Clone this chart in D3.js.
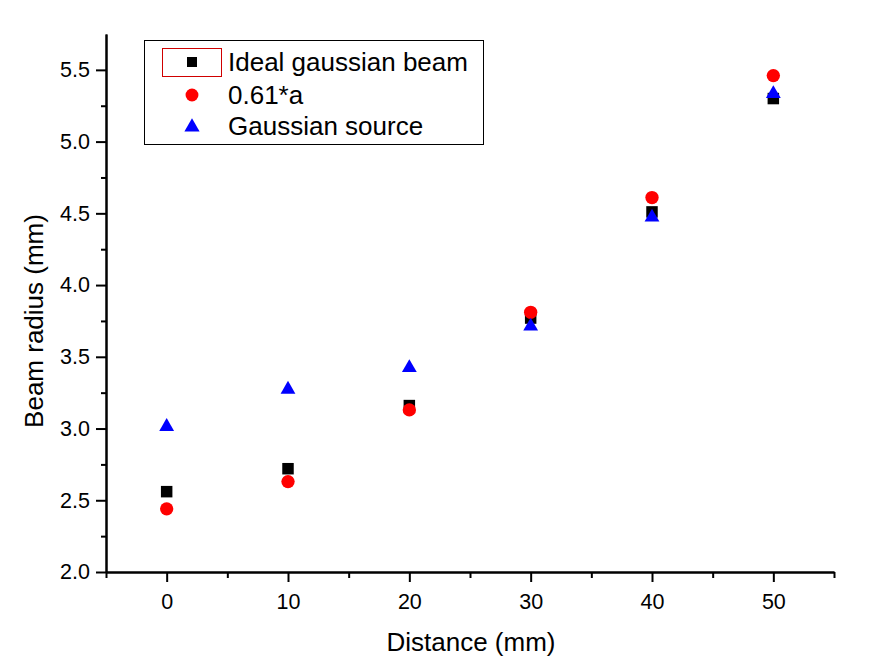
<!DOCTYPE html>
<html>
<head>
<meta charset="utf-8">
<script src="https://cdn.jsdelivr.net/npm/d3@7"></script>
<style>
  html, body { margin: 0; padding: 0; background: #fff; }
  svg { display: block; }
  text { font-family: "Liberation Sans", Arial, sans-serif; fill: #000; }
</style>
</head>
<body>
<svg id="chart" width="875" height="664"></svg>
<script>
// ---- data ----
const distances = [0, 10, 20, 30, 40, 50];
const idealGaussian = [2.56, 2.72, 3.16, 3.77, 4.51, 5.30];
const ratio061a = [2.44, 2.63, 3.13, 3.81, 4.61, 5.46];
const gaussianSource = [3.02, 3.28, 3.43, 3.72, 4.48, 5.34];
const seriesNames = ["Ideal gaussian beam", "0.61*a", "Gaussian source"];
const xTicks = [0, 10, 20, 30, 40, 50];
const xMinorTicks = [-5, 5, 15, 25, 35, 45, 55];
const yTicks = [2.0, 2.5, 3.0, 3.5, 4.0, 4.5, 5.0, 5.5];
const yMinorTicks = [2.25, 2.75, 3.25, 3.75, 4.25, 4.75, 5.25];

(function () {
const svg = d3.select("#chart");
const mLeft = 106, mRight = 834, mTop = 34, mBottom = 572;

const x = d3.scaleLinear().domain([-5, 55]).range([mLeft, mRight]);
const y = d3.scaleLinear().domain([2.0, 5.75]).range([mBottom, mTop]);

// axes
const xAxis = d3.axisBottom(x).tickValues(xTicks).tickSize(10).tickSizeOuter(0).tickPadding(12).tickFormat(d3.format("d"));
const xMinor = d3.axisBottom(x).tickValues(xMinorTicks).tickSize(6).tickSizeOuter(0).tickFormat("");
const yAxis = d3.axisLeft(y).tickValues(yTicks).tickSize(10).tickSizeOuter(0).tickPadding(6).tickFormat(d3.format(".1f"));
const yMinor = d3.axisLeft(y).tickValues(yMinorTicks).tickSize(5).tickSizeOuter(0).tickFormat("");

function styleAxis(g) {
  g.select(".domain").attr("stroke", "#000").attr("stroke-width", 2);
  g.selectAll(".tick line").attr("stroke", "#000").attr("stroke-width", 2);
  g.selectAll(".tick text").style("font-size", "21.5px").style("font-family", '"Liberation Sans", Arial, sans-serif').attr("fill", "#000");
}

svg.append("g").attr("transform", `translate(0,${mBottom})`).call(xMinor).call(styleAxis);
svg.append("g").attr("transform", `translate(0,${mBottom})`).call(xAxis).call(styleAxis);
svg.append("g").attr("transform", `translate(${mLeft},0)`).call(yMinor).call(styleAxis);
svg.append("g").attr("transform", `translate(${mLeft},0)`).call(yAxis).call(styleAxis);

// axis titles
svg.append("text")
  .attr("x", (mLeft + mRight) / 2 + 1)
  .attr("y", 651)
  .attr("text-anchor", "middle")
  .style("font-size", "26px")
  .text("Distance (mm)");

svg.append("text")
  .attr("transform", `translate(43,${(mTop + mBottom) / 2 + 18}) rotate(-90)`)
  .attr("text-anchor", "middle")
  .style("font-size", "26px")
  .text("Beam radius (mm)");

// markers
const sq = d3.symbol().type(d3.symbolSquare).size(132);
const circ = d3.symbol().type(d3.symbolCircle).size(140);
const tri = d3.symbol().type(d3.symbolTriangle).size(95);

const plot = svg.append("g");

plot.selectAll(".sq").data(distances).join("path")
  .attr("d", sq)
  .attr("transform", (d, i) => `translate(${x(d)},${y(idealGaussian[i])})`)
  .attr("fill", "#000");

plot.selectAll(".ci").data(distances).join("path")
  .attr("d", circ)
  .attr("transform", (d, i) => `translate(${x(d)},${y(ratio061a[i])})`)
  .attr("fill", "#ff0000");

plot.selectAll(".tr").data(distances).join("path")
  .attr("d", tri)
  .attr("transform", (d, i) => `translate(${x(d)},${y(gaussianSource[i]) + 1})`)
  .attr("fill", "#0000ff");

// legend
const lg = svg.append("g");
lg.append("rect").attr("x", 144.5).attr("y", 40.5).attr("width", 339).attr("height", 104)
  .attr("fill", "#fff").attr("stroke", "#000").attr("stroke-width", 1);
lg.append("rect").attr("x", 162.5).attr("y", 48.5).attr("width", 59).attr("height", 28)
  .attr("fill", "none").attr("stroke", "#d00000").attr("stroke-width", 1);

const rowsY = [62, 95, 126];
const legendSyms = [
  d3.symbol().type(d3.symbolSquare).size(100),
  d3.symbol().type(d3.symbolCircle).size(130),
  d3.symbol().type(d3.symbolTriangle).size(100)
];
const legendColors = ["#000", "#ff0000", "#0000ff"];
seriesNames.forEach((name, i) => {
  lg.append("path").attr("d", legendSyms[i])
    .attr("transform", `translate(192,${rowsY[i] + (i === 2 ? 1 : 0)})`)
    .attr("fill", legendColors[i]);
  lg.append("text").attr("x", 228).attr("y", rowsY[i] + 9)
    .style("font-size", "26px").text(name);
});
})();
</script>
</body>
</html>
